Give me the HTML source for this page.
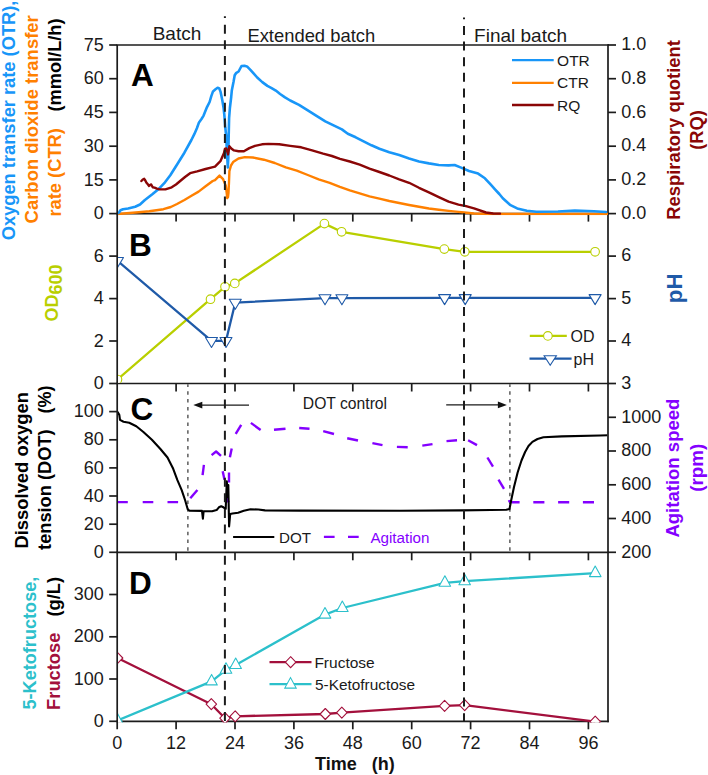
<!DOCTYPE html><html><head><meta charset="utf-8"><style>html,body{margin:0;padding:0;background:#fff;}svg{display:block;}text{font-family:"Liberation Sans",sans-serif;}</style></head><body>
<svg width="708" height="775" viewBox="0 0 708 775">
<defs>
<clipPath id="cA"><rect x="118" y="44" width="490" height="171.2"/></clipPath>
<clipPath id="cB"><rect x="118" y="214.4" width="489.2" height="168.3"/></clipPath>
<clipPath id="cC"><rect x="118" y="384.3" width="489.2" height="167.2"/></clipPath>
<clipPath id="cD"><rect x="118" y="553.1" width="489.2" height="169.3"/></clipPath>
</defs>
<g stroke="#1c1c1c" stroke-width="1.7" fill="none">
<line x1="117.2" y1="45" x2="117.2" y2="729.3" />
<line x1="608.0" y1="45" x2="608.0" y2="721.3" stroke-linecap="square"/>
<line x1="117.2" y1="45.0" x2="608.0" y2="45.0" stroke-linecap="square"/>
<line x1="117.2" y1="213.6" x2="608.0" y2="213.6" stroke-linecap="square"/>
<line x1="117.2" y1="383.5" x2="608.0" y2="383.5" stroke-linecap="square"/>
<line x1="117.2" y1="552.3" x2="608.0" y2="552.3" stroke-linecap="square"/>
<line x1="117.2" y1="721.3" x2="608.0" y2="721.3" stroke-linecap="square"/>
<line x1="176.1" y1="213.6" x2="176.1" y2="221.6" />
<line x1="235.0" y1="213.6" x2="235.0" y2="221.6" />
<line x1="293.9" y1="213.6" x2="293.9" y2="221.6" />
<line x1="352.8" y1="213.6" x2="352.8" y2="221.6" />
<line x1="411.7" y1="213.6" x2="411.7" y2="221.6" />
<line x1="470.6" y1="213.6" x2="470.6" y2="221.6" />
<line x1="529.5" y1="213.6" x2="529.5" y2="221.6" />
<line x1="588.4" y1="213.6" x2="588.4" y2="221.6" />
<line x1="176.1" y1="383.5" x2="176.1" y2="391.5" />
<line x1="235.0" y1="383.5" x2="235.0" y2="391.5" />
<line x1="293.9" y1="383.5" x2="293.9" y2="391.5" />
<line x1="352.8" y1="383.5" x2="352.8" y2="391.5" />
<line x1="411.7" y1="383.5" x2="411.7" y2="391.5" />
<line x1="470.6" y1="383.5" x2="470.6" y2="391.5" />
<line x1="529.5" y1="383.5" x2="529.5" y2="391.5" />
<line x1="588.4" y1="383.5" x2="588.4" y2="391.5" />
<line x1="176.1" y1="552.3" x2="176.1" y2="560.3" />
<line x1="235.0" y1="552.3" x2="235.0" y2="560.3" />
<line x1="293.9" y1="552.3" x2="293.9" y2="560.3" />
<line x1="352.8" y1="552.3" x2="352.8" y2="560.3" />
<line x1="411.7" y1="552.3" x2="411.7" y2="560.3" />
<line x1="470.6" y1="552.3" x2="470.6" y2="560.3" />
<line x1="529.5" y1="552.3" x2="529.5" y2="560.3" />
<line x1="588.4" y1="552.3" x2="588.4" y2="560.3" />
<line x1="176.1" y1="721.3" x2="176.1" y2="729.3" />
<line x1="235.0" y1="721.3" x2="235.0" y2="729.3" />
<line x1="293.9" y1="721.3" x2="293.9" y2="729.3" />
<line x1="352.8" y1="721.3" x2="352.8" y2="729.3" />
<line x1="411.7" y1="721.3" x2="411.7" y2="729.3" />
<line x1="470.6" y1="721.3" x2="470.6" y2="729.3" />
<line x1="529.5" y1="721.3" x2="529.5" y2="729.3" />
<line x1="588.4" y1="721.3" x2="588.4" y2="729.3" />
<line x1="109.2" y1="213.6" x2="117.2" y2="213.6" />
<line x1="109.2" y1="179.9" x2="117.2" y2="179.9" />
<line x1="109.2" y1="146.2" x2="117.2" y2="146.2" />
<line x1="109.2" y1="112.4" x2="117.2" y2="112.4" />
<line x1="109.2" y1="78.7" x2="117.2" y2="78.7" />
<line x1="109.2" y1="45.0" x2="117.2" y2="45.0" />
<line x1="109.2" y1="383.5" x2="117.2" y2="383.5" />
<line x1="109.2" y1="341.0" x2="117.2" y2="341.0" />
<line x1="109.2" y1="298.6" x2="117.2" y2="298.6" />
<line x1="109.2" y1="256.1" x2="117.2" y2="256.1" />
<line x1="109.2" y1="552.3" x2="117.2" y2="552.3" />
<line x1="109.2" y1="524.2" x2="117.2" y2="524.2" />
<line x1="109.2" y1="496.0" x2="117.2" y2="496.0" />
<line x1="109.2" y1="467.9" x2="117.2" y2="467.9" />
<line x1="109.2" y1="439.8" x2="117.2" y2="439.8" />
<line x1="109.2" y1="411.6" x2="117.2" y2="411.6" />
<line x1="109.2" y1="721.3" x2="117.2" y2="721.3" />
<line x1="109.2" y1="679.0" x2="117.2" y2="679.0" />
<line x1="109.2" y1="636.8" x2="117.2" y2="636.8" />
<line x1="109.2" y1="594.5" x2="117.2" y2="594.5" />
<line x1="608.0" y1="213.6" x2="616.0" y2="213.6" />
<line x1="608.0" y1="179.9" x2="616.0" y2="179.9" />
<line x1="608.0" y1="146.2" x2="616.0" y2="146.2" />
<line x1="608.0" y1="112.4" x2="616.0" y2="112.4" />
<line x1="608.0" y1="78.7" x2="616.0" y2="78.7" />
<line x1="608.0" y1="45.0" x2="616.0" y2="45.0" />
<line x1="608.0" y1="383.5" x2="616.0" y2="383.5" />
<line x1="608.0" y1="341.0" x2="616.0" y2="341.0" />
<line x1="608.0" y1="298.6" x2="616.0" y2="298.6" />
<line x1="608.0" y1="256.1" x2="616.0" y2="256.1" />
<line x1="608.0" y1="552.3" x2="616.0" y2="552.3" />
<line x1="608.0" y1="518.5" x2="616.0" y2="518.5" />
<line x1="608.0" y1="484.8" x2="616.0" y2="484.8" />
<line x1="608.0" y1="451.0" x2="616.0" y2="451.0" />
<line x1="608.0" y1="417.3" x2="616.0" y2="417.3" />
</g>
<g clip-path="url(#cA)" fill="none" stroke-linejoin="round" stroke-linecap="round">
<polyline points="117.1,214.1 126.7,213.3 138.7,212.2 149.3,211.3 156.4,210.3 163.4,209.2 170.8,207.0 177.0,204.0 184.4,200.0 191.5,195.8 198.6,191.6 205.6,186.3 212.7,181.0 215.0,180.1 219.5,175.6 223.1,179.2 225.8,185.6 226.6,192.0 227.2,198.2 228.0,197.0 228.5,192.8 229.0,182.0 229.4,171.1 231.0,165.5 233.1,162.1 238.5,158.5 244.8,157.1 252.9,157.5 263.9,159.7 274.8,163.0 285.8,167.4 296.8,170.6 307.8,175.0 318.7,179.4 329.7,182.8 339.9,186.8 349.8,190.3 359.7,193.3 369.5,196.3 379.4,198.6 389.3,201.0 399.2,203.0 409.1,205.0 419.0,206.8 428.9,208.5 438.8,209.7 448.6,210.9 458.5,211.9 464.4,212.5 474.0,213.5 490.0,214.0 608.0,214.0" stroke="#ff8000" stroke-width="2.4"/>
<polyline points="117.8,213.2 119.0,212.5 120.5,210.2 123.0,209.2 128.1,208.5 135.2,206.7 140.0,204.5 144.9,200.0 152.0,194.5 159.0,188.7 165.0,182.3 170.3,175.3 177.4,164.0 184.4,152.7 191.4,140.0 194.3,134.2 196.9,128.3 199.0,122.4 201.5,119.0 203.6,115.6 207.0,107.1 209.6,102.0 211.3,96.1 213.0,91.4 215.5,89.3 217.6,87.8 219.3,88.5 220.6,91.9 222.3,100.3 223.6,108.0 224.4,115.6 225.3,127.5 226.1,135.1 226.6,145.0 227.3,158.0 227.8,167.5 228.3,158.0 228.6,140.0 229.1,118.1 229.9,108.0 231.2,97.0 231.8,90.6 233.5,82.1 234.7,75.3 236.0,73.2 238.6,71.5 241.5,66.0 244.5,65.8 247.0,66.4 250.4,69.8 253.8,73.6 257.2,77.5 262.3,82.1 267.4,85.9 271.6,88.1 275.8,90.6 280.1,94.0 285.0,97.4 290.2,100.5 299.0,104.8 307.8,110.3 316.5,115.8 325.3,121.3 334.1,125.7 341.9,129.4 347.8,133.8 355.7,137.3 363.6,141.3 371.5,145.3 379.4,148.8 389.3,152.2 399.2,155.1 409.1,158.5 419.0,161.5 428.9,163.4 438.8,165.0 448.6,165.4 454.6,165.0 460.5,167.4 469.0,171.0 478.1,173.6 484.9,178.3 490.8,184.7 495.0,189.3 499.3,194.0 502.8,198.3 510.0,204.8 517.2,208.4 526.8,210.8 536.4,211.8 558.0,211.5 574.8,210.6 594.0,211.3 606.0,212.0" stroke="#1896f8" stroke-width="2.6"/>
<polyline points="141.4,181.0 142.8,179.5 144.2,178.8 145.3,180.5 146.3,182.4 147.8,184.2 149.1,185.9 150.2,184.8 151.2,184.5 152.7,187.3 154.5,187.6 156.9,188.7 159.7,189.4 165.4,189.4 171.7,187.3 176.0,184.5 180.2,181.0 185.0,177.0 190.1,173.2 197.1,171.4 205.6,169.0 212.0,167.3 215.0,166.6 220.4,161.2 224.0,153.1 224.9,149.0 226.3,148.5 228.1,154.4 229.4,146.3 231.3,148.5 234.0,150.4 238.5,151.3 243.9,151.3 249.3,148.1 255.0,145.8 262.0,144.3 268.3,143.9 279.2,144.3 290.2,145.9 301.2,147.3 312.1,150.3 323.1,153.6 331.9,156.0 340.0,158.8 349.8,161.5 359.7,164.6 369.5,168.6 379.4,172.0 389.3,175.5 399.2,179.3 409.1,182.8 419.0,187.8 428.9,192.3 438.8,197.1 448.6,201.6 458.5,204.6 466.0,206.2 474.0,208.4 486.0,212.5 493.2,213.5 500.0,213.6" stroke="#8a0606" stroke-width="2.4"/>
</g>
<g clip-path="url(#cB)" stroke-linejoin="round">
<polyline points="117.5,379.5 210.5,299.2 225.0,286.8 234.8,283.4 324.4,223.6 341.6,231.8 444.3,249.1 464.8,251.8 595.1,251.8" fill="none" stroke="#b9cf00" stroke-width="2.3"/>
<polyline points="117.5,260.8 211.5,340.8 226.0,340.8 235.3,302.6 325.0,298.1 341.9,298.1 444.6,297.9 465.2,297.9 595.1,297.9" fill="none" stroke="#1f5aa8" stroke-width="2.3"/>
<circle cx="117.5" cy="379.5" r="4.3" fill="#fff" stroke="#b9cf00" stroke-width="1.1"/>
<circle cx="210.5" cy="299.2" r="4.3" fill="#fff" stroke="#b9cf00" stroke-width="1.1"/>
<circle cx="225.0" cy="286.8" r="4.3" fill="#fff" stroke="#b9cf00" stroke-width="1.1"/>
<circle cx="234.8" cy="283.4" r="4.3" fill="#fff" stroke="#b9cf00" stroke-width="1.1"/>
<circle cx="324.4" cy="223.6" r="4.3" fill="#fff" stroke="#b9cf00" stroke-width="1.1"/>
<circle cx="341.6" cy="231.8" r="4.3" fill="#fff" stroke="#b9cf00" stroke-width="1.1"/>
<circle cx="444.3" cy="249.1" r="4.3" fill="#fff" stroke="#b9cf00" stroke-width="1.1"/>
<circle cx="464.8" cy="251.8" r="4.3" fill="#fff" stroke="#b9cf00" stroke-width="1.1"/>
<circle cx="595.1" cy="251.8" r="4.3" fill="#fff" stroke="#b9cf00" stroke-width="1.1"/>
<polygon points="111.5,257.5 123.5,257.5 117.5,267.5" fill="#fff" stroke="#1f5aa8" stroke-width="1.1"/>
<polygon points="205.5,337.5 217.5,337.5 211.5,347.5" fill="#fff" stroke="#1f5aa8" stroke-width="1.1"/>
<polygon points="220.0,337.5 232.0,337.5 226.0,347.5" fill="#fff" stroke="#1f5aa8" stroke-width="1.1"/>
<polygon points="229.3,299.3 241.3,299.3 235.3,309.3" fill="#fff" stroke="#1f5aa8" stroke-width="1.1"/>
<polygon points="319.0,294.8 331.0,294.8 325.0,304.8" fill="#fff" stroke="#1f5aa8" stroke-width="1.1"/>
<polygon points="335.9,294.8 347.9,294.8 341.9,304.8" fill="#fff" stroke="#1f5aa8" stroke-width="1.1"/>
<polygon points="438.6,294.6 450.6,294.6 444.6,304.6" fill="#fff" stroke="#1f5aa8" stroke-width="1.1"/>
<polygon points="459.2,294.6 471.2,294.6 465.2,304.6" fill="#fff" stroke="#1f5aa8" stroke-width="1.1"/>
<polygon points="589.1,294.6 601.1,294.6 595.1,304.6" fill="#fff" stroke="#1f5aa8" stroke-width="1.1"/>
</g>
<g clip-path="url(#cC)" fill="none">
<line x1="187.9" y1="383.5" x2="187.9" y2="552.3" stroke="#333" stroke-width="1.2" stroke-dasharray="3.5 4.3"/>
<line x1="509.9" y1="383.5" x2="509.9" y2="552.3" stroke="#333" stroke-width="1.2" stroke-dasharray="3.5 4.3"/>
<polyline points="117.2,502.1 127.8,502.1" stroke="#8400ff" stroke-width="2.4" stroke-linejoin="round" stroke-linecap="butt"/>
<polyline points="142.7,502.1 153.3,502.1" stroke="#8400ff" stroke-width="2.4" stroke-linejoin="round" stroke-linecap="butt"/>
<polyline points="167.5,502.1 178.1,502.1" stroke="#8400ff" stroke-width="2.4" stroke-linejoin="round" stroke-linecap="butt"/>
<polyline points="190.3,498.3 197.4,489.9" stroke="#8400ff" stroke-width="2.4" stroke-linejoin="round" stroke-linecap="butt"/>
<polyline points="202.6,475.1 203.9,464.8" stroke="#8400ff" stroke-width="2.4" stroke-linejoin="round" stroke-linecap="butt"/>
<polyline points="211.6,455.1 216.1,451.5 221.0,455.8" stroke="#8400ff" stroke-width="2.4" stroke-linejoin="round" stroke-linecap="butt"/>
<polyline points="222.7,471.2 224.5,479.7" stroke="#8400ff" stroke-width="2.4" stroke-linejoin="round" stroke-linecap="butt"/>
<polyline points="226.3,496.0 228.5,502.3" stroke="#8400ff" stroke-width="2.4" stroke-linejoin="round" stroke-linecap="butt"/>
<polyline points="229.0,482.5 229.0,472.5" stroke="#8400ff" stroke-width="2.4" stroke-linejoin="round" stroke-linecap="butt"/>
<polyline points="229.9,457.2 231.7,448.6" stroke="#8400ff" stroke-width="2.4" stroke-linejoin="round" stroke-linecap="butt"/>
<polyline points="235.7,433.9 241.2,424.8" stroke="#8400ff" stroke-width="2.4" stroke-linejoin="round" stroke-linecap="butt"/>
<polyline points="250.9,422.9 260.6,430.0" stroke="#8400ff" stroke-width="2.4" stroke-linejoin="round" stroke-linecap="butt"/>
<polyline points="274.0,429.7 285.5,428.7" stroke="#8400ff" stroke-width="2.4" stroke-linejoin="round" stroke-linecap="butt"/>
<polyline points="299.2,428.0 309.5,428.7" stroke="#8400ff" stroke-width="2.4" stroke-linejoin="round" stroke-linecap="butt"/>
<polyline points="323.2,431.1 334.0,434.0" stroke="#8400ff" stroke-width="2.4" stroke-linejoin="round" stroke-linecap="butt"/>
<polyline points="347.2,438.3 358.0,440.5" stroke="#8400ff" stroke-width="2.4" stroke-linejoin="round" stroke-linecap="butt"/>
<polyline points="372.4,443.1 382.5,445.1" stroke="#8400ff" stroke-width="2.4" stroke-linejoin="round" stroke-linecap="butt"/>
<polyline points="396.9,446.9 407.7,447.2" stroke="#8400ff" stroke-width="2.4" stroke-linejoin="round" stroke-linecap="butt"/>
<polyline points="422.3,445.6 432.5,444.1" stroke="#8400ff" stroke-width="2.4" stroke-linejoin="round" stroke-linecap="butt"/>
<polyline points="446.5,441.1 457.0,440.3" stroke="#8400ff" stroke-width="2.4" stroke-linejoin="round" stroke-linecap="butt"/>
<polyline points="468.1,440.3 477.0,445.1" stroke="#8400ff" stroke-width="2.4" stroke-linejoin="round" stroke-linecap="butt"/>
<polyline points="487.4,457.5 493.0,466.7" stroke="#8400ff" stroke-width="2.4" stroke-linejoin="round" stroke-linecap="butt"/>
<polyline points="498.5,479.6 504.0,488.8" stroke="#8400ff" stroke-width="2.4" stroke-linejoin="round" stroke-linecap="butt"/>
<polyline points="508.9,500.1 509.5,501.5 512.0,502.2 519.6,502.2" stroke="#8400ff" stroke-width="2.4" stroke-linejoin="round" stroke-linecap="butt"/>
<polyline points="533.3,502.2 544.4,502.2" stroke="#8400ff" stroke-width="2.4" stroke-linejoin="round" stroke-linecap="butt"/>
<polyline points="558.1,502.2 569.2,502.2" stroke="#8400ff" stroke-width="2.4" stroke-linejoin="round" stroke-linecap="butt"/>
<polyline points="582.9,502.2 594.0,502.2" stroke="#8400ff" stroke-width="2.4" stroke-linejoin="round" stroke-linecap="butt"/>
<polyline points="117.1,411.5 117.6,412.1 119.3,414.9 120.0,419.9 123.5,421.7 129.2,422.7 136.3,426.3 143.4,432.0 151.9,439.8 160.4,449.0 167.5,457.5 173.2,468.8 177.4,480.2 181.7,490.1 185.2,500.5 187.8,509.5 189.5,510.7 202.0,510.9 202.9,518.6 203.6,511.2 212.1,511.2 216.6,510.1 218.9,507.3 221.2,506.2 223.4,507.3 225.7,509.0 226.8,481.3 227.8,497.0 228.3,485.0 229.1,526.5 230.2,514.1 232.5,513.5 238.1,512.7 243.8,510.7 250.5,509.3 258.4,509.5 265.0,510.4 300.0,510.6 400.0,510.8 460.7,510.4 491.1,510.0 506.3,509.7 509.5,509.0 511.3,499.8 514.0,487.0 517.7,472.2 521.5,460.5 525.1,452.0 528.5,446.0 532.4,441.9 537.5,439.0 543.4,437.3 561.8,436.4 600.0,435.5 608.0,435.3" stroke="#000" stroke-width="2.1" stroke-linejoin="round"/>
</g>
<line x1="201" y1="405.1" x2="249" y2="405.1" stroke="#1a1a1a" stroke-width="1.3"/>
<polygon points="193.3,405.1 202.3,401.8 202.3,408.4" fill="#111"/>
<line x1="446.2" y1="404.9" x2="498" y2="404.9" stroke="#1a1a1a" stroke-width="1.3"/>
<polygon points="506.9,404.9 497.9,401.6 497.9,408.2" fill="#111"/>
<g clip-path="url(#cD)" stroke-linejoin="round">
<polyline points="117.5,658.0 211.3,704.2 225.0,718.2 235.2,716.3 325.3,714.0 341.8,712.7 444.6,705.9 464.7,705.2 595.2,721.6" fill="none" stroke="#a3103c" stroke-width="2.3"/>
<polyline points="117.5,720.5 211.6,681.4 226.0,669.8 235.7,665.0 325.0,614.6 342.3,608.0 444.9,582.8 464.7,581.2 595.2,573.1" fill="none" stroke="#2cc0cb" stroke-width="2.3"/>
<polygon points="117.5,652.5 122.8,658.0 117.5,663.5 112.2,658.0" fill="#fff" stroke="#a3103c" stroke-width="1.1"/>
<polygon points="211.3,698.7 216.6,704.2 211.3,709.7 206.1,704.2" fill="#fff" stroke="#a3103c" stroke-width="1.1"/>
<polygon points="225.0,712.7 230.2,718.2 225.0,723.7 219.8,718.2" fill="#fff" stroke="#a3103c" stroke-width="1.1"/>
<polygon points="235.2,710.8 240.4,716.3 235.2,721.8 229.9,716.3" fill="#fff" stroke="#a3103c" stroke-width="1.1"/>
<polygon points="325.3,708.5 330.6,714.0 325.3,719.5 320.1,714.0" fill="#fff" stroke="#a3103c" stroke-width="1.1"/>
<polygon points="341.8,707.2 347.1,712.7 341.8,718.2 336.6,712.7" fill="#fff" stroke="#a3103c" stroke-width="1.1"/>
<polygon points="444.6,700.4 449.9,705.9 444.6,711.4 439.4,705.9" fill="#fff" stroke="#a3103c" stroke-width="1.1"/>
<polygon points="464.7,699.7 469.9,705.2 464.7,710.7 459.4,705.2" fill="#fff" stroke="#a3103c" stroke-width="1.1"/>
<polygon points="595.2,716.1 600.5,721.6 595.2,727.1 590.0,721.6" fill="#fff" stroke="#a3103c" stroke-width="1.1"/>
<polygon points="111.8,724.0 123.2,724.0 117.5,713.5" fill="#fff" stroke="#2cc0cb" stroke-width="1.1"/>
<polygon points="205.8,684.9 217.3,684.9 211.6,674.4" fill="#fff" stroke="#2cc0cb" stroke-width="1.1"/>
<polygon points="220.2,673.3 231.8,673.3 226.0,662.8" fill="#fff" stroke="#2cc0cb" stroke-width="1.1"/>
<polygon points="229.9,668.5 241.4,668.5 235.7,658.0" fill="#fff" stroke="#2cc0cb" stroke-width="1.1"/>
<polygon points="319.2,618.1 330.8,618.1 325.0,607.6" fill="#fff" stroke="#2cc0cb" stroke-width="1.1"/>
<polygon points="336.6,611.5 348.1,611.5 342.3,601.0" fill="#fff" stroke="#2cc0cb" stroke-width="1.1"/>
<polygon points="439.1,586.3 450.6,586.3 444.9,575.8" fill="#fff" stroke="#2cc0cb" stroke-width="1.1"/>
<polygon points="458.9,584.7 470.4,584.7 464.7,574.2" fill="#fff" stroke="#2cc0cb" stroke-width="1.1"/>
<polygon points="589.5,576.6 601.0,576.6 595.2,566.1" fill="#fff" stroke="#2cc0cb" stroke-width="1.1"/>
</g>
<g stroke="#1c1c1c" stroke-width="2" stroke-dasharray="9 6.62">
<line x1="224.9" y1="16.2" x2="224.9" y2="721" stroke-dashoffset="7.12"/>
<line x1="464.0" y1="17.5" x2="464.0" y2="721" stroke-dashoffset="7.2"/>
</g>
<text x="152.7" y="40.4" text-anchor="start" font-size="19" fill="#1a1a1a">Batch</text>
<text x="247.4" y="41.5" text-anchor="start" font-size="18.4" fill="#1a1a1a">Extended batch</text>
<text x="474.1" y="41.9" text-anchor="start" font-size="19" fill="#1a1a1a">Final batch</text>
<text x="103.8" y="219.2" text-anchor="end" font-size="18" fill="#1a1a1a">0</text>
<text x="103.8" y="185.5" text-anchor="end" font-size="18" fill="#1a1a1a">15</text>
<text x="103.8" y="151.8" text-anchor="end" font-size="18" fill="#1a1a1a">30</text>
<text x="103.8" y="118.0" text-anchor="end" font-size="18" fill="#1a1a1a">45</text>
<text x="103.8" y="84.3" text-anchor="end" font-size="18" fill="#1a1a1a">60</text>
<text x="103.8" y="50.6" text-anchor="end" font-size="18" fill="#1a1a1a">75</text>
<text x="103.8" y="389.1" text-anchor="end" font-size="18" fill="#1a1a1a">0</text>
<text x="103.8" y="346.6" text-anchor="end" font-size="18" fill="#1a1a1a">2</text>
<text x="103.8" y="304.2" text-anchor="end" font-size="18" fill="#1a1a1a">4</text>
<text x="103.8" y="261.7" text-anchor="end" font-size="18" fill="#1a1a1a">6</text>
<text x="103.8" y="557.9" text-anchor="end" font-size="18" fill="#1a1a1a">0</text>
<text x="103.8" y="529.8" text-anchor="end" font-size="18" fill="#1a1a1a">20</text>
<text x="103.8" y="501.6" text-anchor="end" font-size="18" fill="#1a1a1a">40</text>
<text x="103.8" y="473.5" text-anchor="end" font-size="18" fill="#1a1a1a">60</text>
<text x="103.8" y="445.4" text-anchor="end" font-size="18" fill="#1a1a1a">80</text>
<text x="103.8" y="417.2" text-anchor="end" font-size="18" fill="#1a1a1a">100</text>
<text x="103.8" y="726.9" text-anchor="end" font-size="18" fill="#1a1a1a">0</text>
<text x="103.8" y="684.6" text-anchor="end" font-size="18" fill="#1a1a1a">100</text>
<text x="103.8" y="642.4" text-anchor="end" font-size="18" fill="#1a1a1a">200</text>
<text x="103.8" y="600.1" text-anchor="end" font-size="18" fill="#1a1a1a">300</text>
<text x="621.3" y="218.8" text-anchor="start" font-size="18" fill="#1a1a1a">0.0</text>
<text x="621.3" y="185.1" text-anchor="start" font-size="18" fill="#1a1a1a">0.2</text>
<text x="621.3" y="151.4" text-anchor="start" font-size="18" fill="#1a1a1a">0.4</text>
<text x="621.3" y="117.6" text-anchor="start" font-size="18" fill="#1a1a1a">0.6</text>
<text x="621.3" y="83.9" text-anchor="start" font-size="18" fill="#1a1a1a">0.8</text>
<text x="621.3" y="50.2" text-anchor="start" font-size="18" fill="#1a1a1a">1.0</text>
<text x="621.3" y="388.7" text-anchor="start" font-size="18" fill="#1a1a1a">3</text>
<text x="621.3" y="346.2" text-anchor="start" font-size="18" fill="#1a1a1a">4</text>
<text x="621.3" y="303.8" text-anchor="start" font-size="18" fill="#1a1a1a">5</text>
<text x="621.3" y="261.3" text-anchor="start" font-size="18" fill="#1a1a1a">6</text>
<text x="621.3" y="557.5" text-anchor="start" font-size="18" fill="#1a1a1a">200</text>
<text x="621.3" y="523.7" text-anchor="start" font-size="18" fill="#1a1a1a">400</text>
<text x="621.3" y="490.0" text-anchor="start" font-size="18" fill="#1a1a1a">600</text>
<text x="621.3" y="456.2" text-anchor="start" font-size="18" fill="#1a1a1a">800</text>
<text x="621.3" y="422.5" text-anchor="start" font-size="18" fill="#1a1a1a">1000</text>
<text x="117.2" y="749.3" text-anchor="middle" font-size="18" fill="#1a1a1a">0</text>
<text x="176.1" y="749.3" text-anchor="middle" font-size="18" fill="#1a1a1a">12</text>
<text x="235.0" y="749.3" text-anchor="middle" font-size="18" fill="#1a1a1a">24</text>
<text x="293.9" y="749.3" text-anchor="middle" font-size="18" fill="#1a1a1a">36</text>
<text x="352.8" y="749.3" text-anchor="middle" font-size="18" fill="#1a1a1a">48</text>
<text x="411.7" y="749.3" text-anchor="middle" font-size="18" fill="#1a1a1a">60</text>
<text x="470.6" y="749.3" text-anchor="middle" font-size="18" fill="#1a1a1a">72</text>
<text x="529.5" y="749.3" text-anchor="middle" font-size="18" fill="#1a1a1a">84</text>
<text x="588.4" y="749.3" text-anchor="middle" font-size="18" fill="#1a1a1a">96</text>
<text x="315.0" y="769.8" text-anchor="start" font-size="18" font-weight="bold" fill="#111">Time&#160;&#160;&#160;(h)</text>
<text x="131.0" y="86.4" text-anchor="start" font-size="31.5" font-weight="bold" fill="#000">A</text>
<text x="129.1" y="256.4" text-anchor="start" font-size="31.5" font-weight="bold" fill="#000">B</text>
<text x="130.4" y="419.7" text-anchor="start" font-size="31.5" font-weight="bold" fill="#000">C</text>
<text x="129.1" y="594.0" text-anchor="start" font-size="31.5" font-weight="bold" fill="#000">D</text>
<g stroke-width="2.4">
<line x1="512" y1="60.1" x2="553.7" y2="60.1" stroke="#1896f8"/>
<line x1="512" y1="82.9" x2="553.7" y2="82.9" stroke="#ff8000"/>
<line x1="512" y1="105" x2="553.7" y2="105" stroke="#8a0606"/>
</g>
<text x="557.1" y="65.5" text-anchor="start" font-size="15.5" fill="#1a1a1a">OTR</text>
<text x="557.1" y="88.1" text-anchor="start" font-size="15.5" fill="#1a1a1a">CTR</text>
<text x="557.1" y="110.7" text-anchor="start" font-size="15.5" fill="#1a1a1a">RQ</text>
<line x1="529.8" y1="335.9" x2="566.8" y2="335.9" stroke="#b9cf00" stroke-width="2.3"/>
<circle cx="547.9" cy="335.9" r="4.3" fill="#fff" stroke="#b9cf00" stroke-width="1.1"/>
<line x1="529.5" y1="358.6" x2="571.6" y2="358.6" stroke="#1f5aa8" stroke-width="2.3"/>
<polygon points="544.1,355.7 556.4,355.7 550.2,365.3" fill="#fff" stroke="#1f5aa8" stroke-width="1.1"/>
<text x="570.5" y="341.7" text-anchor="start" font-size="16" fill="#1a1a1a">OD</text>
<text x="573.5" y="364.6" text-anchor="start" font-size="16" fill="#1a1a1a">pH</text>
<line x1="233.1" y1="536.9" x2="274.3" y2="536.9" stroke="#000" stroke-width="2"/>
<line x1="323.9" y1="536.9" x2="359.5" y2="536.9" stroke="#8400ff" stroke-width="2.4" stroke-dasharray="10.7 13.4"/>
<text x="279.0" y="543.0" text-anchor="start" font-size="15.2" fill="#1a1a1a">DOT</text>
<text x="370.4" y="543.0" text-anchor="start" font-size="15.2" fill="#8400ff">Agitation</text>
<text x="302.8" y="408.5" text-anchor="start" font-size="15.7" fill="#1a1a1a">DOT control</text>
<line x1="269.5" y1="662.2" x2="311.5" y2="662.2" stroke="#a3103c" stroke-width="2.3"/>
<polygon points="290.6,656.7 295.9,662.2 290.6,667.7 285.4,662.2" fill="#fff" stroke="#a3103c" stroke-width="1.1"/>
<line x1="269.5" y1="684.2" x2="311.5" y2="684.2" stroke="#2cc0cb" stroke-width="2.3"/>
<polygon points="284.8,688.1 296.2,688.1 290.5,677.6" fill="#fff" stroke="#2cc0cb" stroke-width="1.1"/>
<text x="314.4" y="667.5" text-anchor="start" font-size="15.5" fill="#1a1a1a">Fructose</text>
<text x="315.0" y="689.8" text-anchor="start" font-size="15.4" fill="#1a1a1a">5-Ketofructose</text>
<text transform="translate(14.60,240.30) rotate(-90)" text-anchor="start" font-size="18.30" font-weight="bold" fill="#1896f8">Oxygen transfer rate (OTR),</text>
<text transform="translate(38.20,223.40) rotate(-90)" text-anchor="start" font-size="18.47" font-weight="bold" fill="#ff8000">Carbon dioxide transfer</text>
<text transform="translate(61.30,216.60) rotate(-90)" text-anchor="start" font-size="18.32" font-weight="bold" fill="#ff8000">rate (CTR)</text>
<text transform="translate(61.30,111.60) rotate(-90)" text-anchor="start" font-size="18.24" font-weight="bold" fill="#000">(mmol/L/h)</text>
<text transform="translate(58.00,321.50) rotate(-90)" text-anchor="start" font-size="18.00" font-weight="bold" fill="#b9cf00">OD<tspan dy="3.6">600</tspan></text>
<text transform="translate(27.70,548.60) rotate(-90)" text-anchor="start" font-size="18.42" font-weight="bold" fill="#000">Dissolved oxygen</text>
<text transform="translate(51.20,549.90) rotate(-90)" text-anchor="start" font-size="18.23" font-weight="bold" fill="#000">tension (DOT)</text>
<text transform="translate(51.30,413.60) rotate(-90)" text-anchor="start" font-size="18.00" font-weight="bold" fill="#000">(%)</text>
<text transform="translate(36.30,709.50) rotate(-90)" text-anchor="start" font-size="18.13" font-weight="bold" fill="#2cc0cb">5-Ketofructose,</text>
<text transform="translate(60.00,709.90) rotate(-90)" text-anchor="start" font-size="18.30" font-weight="bold" fill="#a3103c">Fructose</text>
<text transform="translate(59.90,616.50) rotate(-90)" text-anchor="start" font-size="18.30" font-weight="bold" fill="#000">(g/L)</text>
<text transform="translate(680.00,219.70) rotate(-90)" text-anchor="start" font-size="18.37" font-weight="bold" fill="#8a0606">Respiratory quotient</text>
<text transform="translate(703.40,149.70) rotate(-90)" text-anchor="start" font-size="18.20" font-weight="bold" fill="#8a0606">(RQ)</text>
<text transform="translate(681.90,303.20) rotate(-90)" text-anchor="start" font-size="22.30" font-weight="bold" fill="#1f5aa8">pH</text>
<text transform="translate(679.20,537.60) rotate(-90)" text-anchor="start" font-size="18.55" font-weight="bold" fill="#8400ff">Agitation speed</text>
<text transform="translate(702.90,491.70) rotate(-90)" text-anchor="start" font-size="18.80" font-weight="bold" fill="#8400ff">(rpm)</text>
</svg></body></html>
